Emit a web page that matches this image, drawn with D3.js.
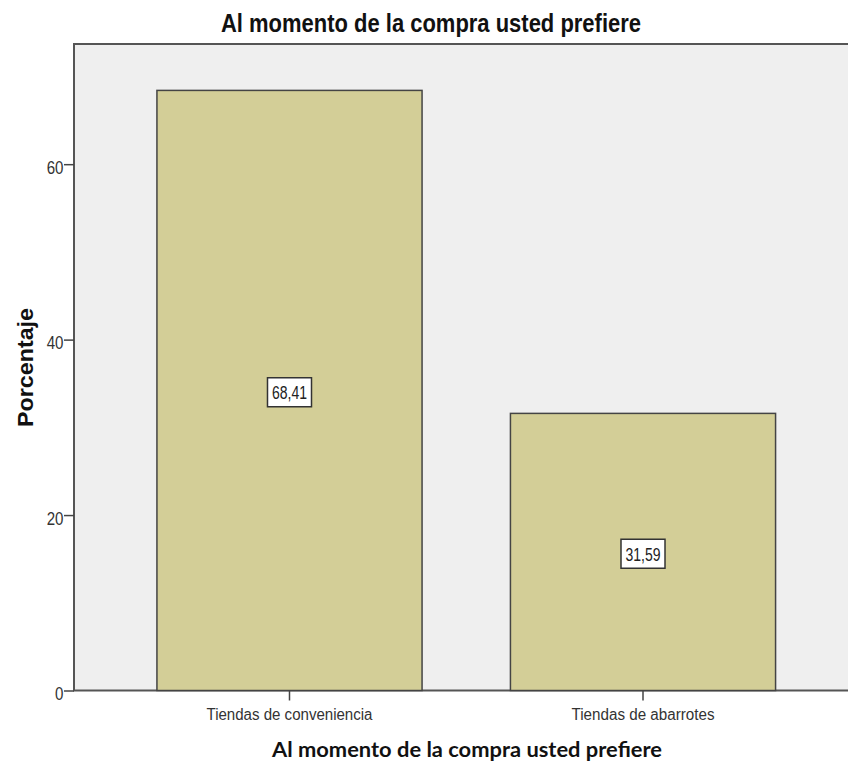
<!DOCTYPE html>
<html><head><meta charset="utf-8">
<script src="https://cdn.jsdelivr.net/npm/d3@7"></script>
<style>body{margin:0;background:#fff}svg{display:block}</style>
</head><body>
<svg id="chart" width="848" height="761"></svg>
<script>
const categories = ["Tiendas de conveniencia", "Tiendas de abarrotes"];
const values = [68.41, 31.59];
const valueLabels = ["68,41", "31,59"];
const yTicks = [0, 20, 40, 60];
const title = "Al momento de la compra usted prefiere";
const xTitle = "Al momento de la compra usted prefiere";
const yTitle = "Porcentaje";

const svg = d3.select("#chart");
const L = 74, T = 44, B = 690.5, R = 858.5;
const FONT = "Liberation Sans, Arial, sans-serif";
const y = d3.scaleLinear().domain([0, 73.7]).range([B, T]);
const x = d3.scaleBand().domain(categories).range([L, R]).paddingInner(0.25).paddingOuter(0.2346);

svg.append("rect").attr("x", L).attr("y", T).attr("width", 848 - L + 5).attr("height", B - T)
  .attr("fill", "#efefef").attr("stroke", "#555").attr("stroke-width", 2);

svg.selectAll("rect.bar").data(values).join("rect").attr("class", "bar")
  .attr("x", (d, i) => x(categories[i])).attr("width", x.bandwidth())
  .attr("y", d => y(d)).attr("height", d => y(0) - y(d))
  .attr("fill", "#d3ce97").attr("stroke", "#444").attr("stroke-width", 1.5);

// value labels
const lg = svg.selectAll("g.lab").data(values).join("g").attr("class", "lab")
  .attr("transform", (d, i) => `translate(${x(categories[i]) + x.bandwidth() / 2},${y(d / 2) + 1.8})`);
lg.append("rect").attr("x", -22).attr("y", -14.5).attr("width", 44).attr("height", 29)
  .attr("fill", "#fff").attr("stroke", "#333").attr("stroke-width", 1.5);
lg.append("text").text((d, i) => valueLabels[i]).attr("text-anchor", "middle").attr("y", 6.8)
  .attr("textLength", 35).attr("lengthAdjust", "spacingAndGlyphs")
  .attr("font-family", FONT).attr("font-size", 18).attr("fill", "#222");

// y axis
const yAxis = svg.append("g").attr("transform", `translate(${L},0)`)
  .call(d3.axisLeft(y).tickValues(yTicks).tickSize(10).tickSizeOuter(0).tickFormat(d3.format("d")));
yAxis.select(".domain").remove();
yAxis.selectAll("line").attr("stroke", "#444").attr("stroke-width", 1.5);
yAxis.selectAll("text").attr("font-family", FONT)
  .attr("font-size", 18).attr("fill", "#333").attr("x", -10.5).attr("dy", null).attr("y", 9)
  .attr("textLength", d => String(d).length * 8.4).attr("lengthAdjust", "spacingAndGlyphs");

// x axis
const catWidths = [166, 143];
const xAxis = svg.append("g").attr("transform", `translate(0,${B})`)
  .call(d3.axisBottom(x).tickSize(10).tickSizeOuter(0));
xAxis.select(".domain").remove();
xAxis.selectAll("line").attr("stroke", "#444").attr("stroke-width", 1.5);
xAxis.selectAll("text").attr("font-family", FONT)
  .attr("font-size", 16).attr("fill", "#333").attr("dy", null).attr("y", 29)
  .attr("textLength", (d, i) => catWidths[i]).attr("lengthAdjust", "spacingAndGlyphs");

svg.append("text").text(title).attr("x", 431).attr("y", 32).attr("text-anchor", "middle")
  .attr("textLength", 420).attr("lengthAdjust", "spacingAndGlyphs")
  .attr("font-family", FONT).attr("font-weight", "bold")
  .attr("font-size", 26).attr("fill", "#111");

svg.append("text").text(xTitle).attr("x", 467).attr("y", 757).attr("text-anchor", "middle")
  .attr("textLength", 390).attr("lengthAdjust", "spacingAndGlyphs")
  .attr("font-family", "Lato, sans-serif").attr("font-weight", "bold")
  .attr("font-size", 20).attr("fill", "#111");

svg.append("text").text(yTitle).attr("transform", "translate(33,367.5) rotate(-90)").attr("text-anchor", "middle")
  .attr("textLength", 119).attr("lengthAdjust", "spacingAndGlyphs")
  .attr("font-family", FONT).attr("font-weight", "bold")
  .attr("font-size", 22).attr("fill", "#111");
</script>
</body></html>
